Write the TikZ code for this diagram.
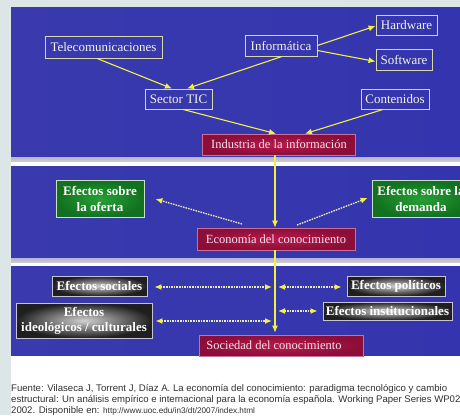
\documentclass[tikz,border=0pt]{standalone}
\usepackage{fontspec}
\setmainfont{Liberation Serif}
\newfontfamily\capfont{Liberation Sans}
\usetikzlibrary{arrows.meta}
\definecolor{stripc}{HTML}{DDE6E6}
\definecolor{bgl}{HTML}{3A3AAE}
\definecolor{bgm}{HTML}{4E4EDE}
\definecolor{bgr}{HTML}{3434AE}
\definecolor{barc}{HTML}{B4B4D4}
\definecolor{boxln}{HTML}{D8D8A8}
\definecolor{txtc}{HTML}{F2F2E4}
\definecolor{redin}{HTML}{B81A4C}
\definecolor{redout}{HTML}{8C0E38}
\definecolor{redln}{HTML}{C8709A}
\definecolor{redtxt}{HTML}{F4E4EC}
\definecolor{grnin}{HTML}{26A036}
\definecolor{grnout}{HTML}{12701E}
\definecolor{grnln}{HTML}{C8E0C8}
\definecolor{gryln}{HTML}{C4C4D4}
\definecolor{ylw}{HTML}{F2F040}
\definecolor{ylwd}{HTML}{ECECB4}
\definecolor{captc}{HTML}{303030}
\tikzset{
  tb/.style={draw=boxln, line width=0.9pt, text=txtc, font=\fontsize{13}{15}\selectfont, inner sep=0pt},
  rb/.style={draw=redln, line width=0.6pt, inner color=redin, outer color=redout, text=redtxt, font=\fontsize{12.5}{14}\selectfont, inner sep=0pt},
  gb/.style={draw=grnln, line width=0.8pt, inner color=grnin, outer color=grnout, text=white, font=\bfseries\fontsize{13}{15.5}\selectfont, align=center, inner sep=0pt},
  kb/.style={draw=gryln, line width=0.9pt, inner color=black!18, outer color=black!88, text=white, font=\bfseries\fontsize{13}{15}\selectfont, align=center, inner sep=0pt},
  ya/.style={draw=ylw, line width=1.1pt, -{Latex[length=7pt,width=6pt]}},
  yd/.style={draw=ylwd, line width=1.3pt, dash pattern=on 1.6pt off 1pt},
  ydd/.style={yd, {Latex[length=7pt,width=6pt,color=ylw]}-{Latex[length=7pt,width=6pt,color=ylw]}},
  yds/.style={yd, -{Latex[length=7pt,width=6pt,color=ylw]}},
  capt/.style={anchor=base west, inner sep=0pt, text=captc, font=\capfont\fontsize{9.6}{11}\selectfont}
}
\begin{document}
\begin{tikzpicture}[x=1pt,y=-1pt]
\useasboundingbox (0,0) rectangle (460,415);
\clip (0,0) rectangle (460,415);
% background
\fill[stripc] (0,0) rectangle (460,415);
\fill[white] (11,7) rectangle (460,415);
% panels
\shade[left color=bgl, middle color=bgm, right color=bgr] (11,7) rectangle (460,157);
\shade[top color=barc, bottom color=black!20] (11,157) rectangle (460,161);
\shade[left color=bgl, middle color=bgm, right color=bgr] (11,166) rectangle (460,258);
\shade[top color=barc, bottom color=black!20] (11,258) rectangle (460,262);
\shade[left color=bgl, middle color=bgm, right color=bgr] (11,266) rectangle (460,355);
\coordinate (vx) at (275,0);

% panel 1
\node[tb, minimum width=117pt, minimum height=22pt] (tel) at (103.5,47) {Telecomunicaciones};
\node[tb, minimum width=67pt, minimum height=20pt] (sec) at (178.5,99) {Sector TIC};
\node[tb, minimum width=72pt, minimum height=21pt] (inf) at (281,45.5) {Informática};
\node[tb, minimum width=61pt, minimum height=20pt] (hw) at (406.5,25) {Hardware};
\node[tb, minimum width=56pt, minimum height=21pt] (sw) at (404,59.5) {Software};
\node[tb, minimum width=68pt, minimum height=20pt] (con) at (395,99) {Contenidos};
\node[rb, minimum width=153pt, minimum height=21pt] (ind) at (279,144.5) {Industria de la información};

\draw[ya] ([xshift=-6.5pt]tel.south) -- ([xshift=-6.5pt]sec.north);
\draw[ya] ([xshift=1pt]inf.south) -- ([xshift=8.5pt]sec.north);
\draw[ya] ([xshift=4.5pt]sec.south) -- ([xshift=-3pt]ind.north);
\draw[ya] ([xshift=-12pt]con.south) -- ([xshift=26pt]ind.north);
\draw[ya] (inf.east) -- ([yshift=-1pt]hw.west);
\draw[ya] ([yshift=-5pt]inf.east) -- ([yshift=-2pt]sw.west);

% panel 2
\node[gb, minimum width=88pt, minimum height=37pt] (ofe) at (100,199) {Efectos sobre\\la oferta};
\node[gb, minimum width=98pt, minimum height=37pt] (dem) at (421,199) {Efectos sobre la\\demanda};
\node[rb, minimum width=158pt, minimum height=22pt] (eco) at (276,239) {Economía del conocimiento};
\coordinate (e1) at (242,224);
\coordinate (e2) at (297,225);
\draw[yds] (e1) -- ([xshift=11pt]ofe.east);
\draw[yds] (e2) -- ([xshift=-4pt,yshift=1pt]dem.west);

% panel 3
\node[rb, minimum width=164pt, minimum height=21pt] (soc) at (281,345.5) {Sociedad del conocimiento\hspace*{14pt}};
\node[kb, minimum width=95pt, minimum height=20pt] (esoc) at (99.5,286) {Efectos sociales};
\node[kb, minimum width=136pt, minimum height=35pt] (ideo) at (84,320.5) {Efectos\\ideológicos / culturales};
\node[kb, minimum width=98pt, minimum height=20pt] (pol) at (396,286) {Efectos políticos};
\node[kb, minimum width=129pt, minimum height=18pt] (inst) at (387.5,311) {Efectos institucionales};

% vertical axis
\draw[ya] (ind.south -| vx) -- (eco.north -| vx);
\draw[ya, shorten >=2pt] (eco.south -| vx) -- (soc.north -| vx);

\draw[ydd, shorten <=7pt, shorten >=3pt] ([yshift=-1pt]esoc.east) -- ([yshift=-1pt]esoc.east -| vx);
\draw[ydd, shorten <=3pt, shorten >=5pt] ([yshift=-1pt]pol.west -| vx) -- ([yshift=-1pt]pol.west);
\draw[ydd, shorten <=3pt, shorten >=5pt] (inst.west -| vx) -- (inst.west);
\draw[ydd, shorten <=3pt, shorten >=3pt] ([yshift=-0.5pt]ideo.east) -- ([yshift=-0.5pt]ideo.east -| vx);

% caption
\node[capt] (c1) at (11,391.5) {Fuente: Vilaseca J, Torrent J, Díaz A. La economía del conocimiento: paradigma tecnológico y cambio};
\node[capt] (c2) at (11,402.5) {estructural: Un análisis empírico e internacional para la economía española. Working Paper Series WP02-003.};
\node[capt] (c3) at (11,413.5) {2002. Disponible en: {\fontsize{8.2}{9}\selectfont http://www.uoc.edu/in3/dt/2007/index.html}};
\end{tikzpicture}
\end{document}
